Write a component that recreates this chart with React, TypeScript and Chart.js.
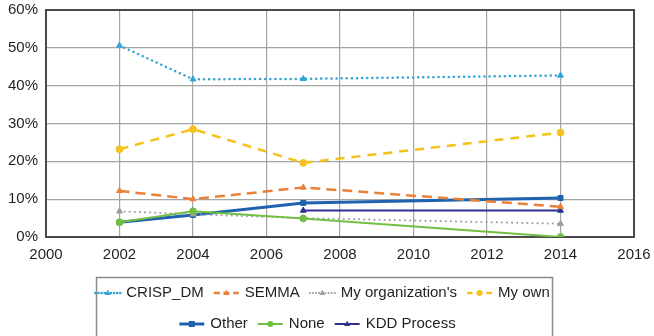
import { useEffect, useRef } from 'react';
import { Chart, registerables } from 'chart.js';

Chart.register(...registerables);

// ---------- data ----------
const years = [2002, 2004, 2007, 2014];
const kddYears = [2007, 2014];
const crispDm = [50.6, 41.7, 41.8, 42.7];
const semma = [12.2, 10.0, 13.1, 8.0];
const myOrganization = [6.8, 6.0, 5.0, 3.5];
const myOwn = [23.2, 28.5, 19.6, 27.6];
const other = [3.9, 5.8, 9.0, 10.3];
const none = [3.9, 6.8, 4.9, 0];
const kddProcess = [7.0, 7.0];
const xTicks = [2000, 2002, 2004, 2006, 2008, 2010, 2012, 2014, 2016];
const yTicks = [0, 10, 20, 30, 40, 50, 60];

const FONT = '"Liberation Sans", Arial, Helvetica, sans-serif';
const TEXT = '#231f20';

type S = {
  label: string;
  xs: number[];
  ys: number[];
  color: string;
  dash: number[];
  width: number;
  cap: CanvasLineCap;
  marker: 'triangle' | 'rect' | 'circle';
  order?: number;
};

const series: S[] = [
  { label: 'CRISP_DM', xs: years, ys: crispDm, color: '#33a3d6', dash: [0.1, 5], width: 2.5, cap: 'round', marker: 'triangle' },
  { label: 'SEMMA', xs: years, ys: semma, color: '#ea8139', dash: [10, 6], width: 2.5, cap: 'butt', marker: 'triangle' },
  { label: "My organization's", xs: years, ys: myOrganization, color: '#9d9d9d', dash: [0.1, 5], width: 2, cap: 'round', marker: 'triangle' },
  { label: 'My own', xs: years, ys: myOwn, color: '#f5c21b', dash: [9, 7], width: 2.5, cap: 'butt', marker: 'circle' },
  { label: 'Other', xs: years, ys: other, color: '#1f62ad', dash: [], width: 3, cap: 'butt', marker: 'rect' },
  { label: 'None', xs: years, ys: none, color: '#72bf45', dash: [], width: 2, cap: 'butt', marker: 'circle', order: -1 },
  { label: 'KDD Process', xs: kddYears, ys: kddProcess, color: '#2e3192', dash: [], width: 2, cap: 'butt', marker: 'triangle' },
];

function drawMarker(ctx: CanvasRenderingContext2D, m: string, x: number, y: number, r: number, color: string) {
  ctx.save();
  ctx.setLineDash([]);
  ctx.fillStyle = color;
  ctx.beginPath();
  if (m === 'triangle') {
    ctx.moveTo(x, y - r * 1.1);
    ctx.lineTo(x + r, y + r * 0.7);
    ctx.lineTo(x - r, y + r * 0.7);
    ctx.closePath();
  } else if (m === 'rect') {
    ctx.rect(x - r, y - r, 2 * r, 2 * r);
  } else {
    ctx.arc(x, y, r, 0, Math.PI * 2);
  }
  ctx.fill();
  ctx.restore();
}

const legendRows = [[0, 1, 2, 3], [4, 5, 6]];
const legendRowY = [293, 324];
const legendRowCenter = [322, 317];

const boxLegendPlugin = {
  id: 'boxLegend',
  beforeDatasetsDraw(chart: any) {
    const { ctx, chartArea } = chart;
    ctx.save();
    ctx.strokeStyle = '#4a4a4a';
    ctx.lineWidth = 2;
    ctx.strokeRect(chartArea.left, chartArea.top, chartArea.right - chartArea.left, chartArea.bottom - chartArea.top);
    ctx.restore();
  },
  afterDraw(chart: any) {
    const ctx: CanvasRenderingContext2D = chart.ctx;
    ctx.save();
    // legend frame
    ctx.strokeStyle = '#8a8a8a';
    ctx.lineWidth = 1.5;
    ctx.strokeRect(96.5, 277.5, 456, 62);
    ctx.font = '15px ' + FONT;
    ctx.textBaseline = 'middle';
    ctx.textAlign = 'left';
    const sampleW = 27;
    const textGap = 5;
    const itemGap = 9;
    legendRows.forEach((row, ri) => {
      const widths = row.map((i) => sampleW + textGap + ctx.measureText(series[i].label).width);
      const total = widths.reduce((a, b) => a + b, 0) + itemGap * (row.length - 1);
      let x = legendRowCenter[ri] - total / 2;
      const y = legendRowY[ri];
      row.forEach((i, k) => {
        const s = series[i];
        ctx.save();
        ctx.strokeStyle = s.color;
        ctx.lineWidth = s.width;
        ctx.lineCap = s.cap;
        ctx.setLineDash(s.dash.length ? [s.dash[0] * 0.6 + 0.05, s.dash[1] * 0.6] : []);
        ctx.beginPath();
        ctx.moveTo(x + 1, y);
        ctx.lineTo(x + sampleW - 1, y);
        ctx.stroke();
        ctx.restore();
        drawMarker(ctx, s.marker, x + sampleW / 2, y, 3, s.color);
        ctx.fillStyle = TEXT;
        ctx.fillText(s.label, x + sampleW + textGap, y);
        x += widths[k] + itemGap;
      });
    });
    ctx.restore();
  },
};

export default function App() {
  const ref = useRef<HTMLCanvasElement>(null);
  useEffect(() => {
    const datasets = series.map((s) => ({
      label: s.label,
      data: s.xs.map((x, i) => ({ x, y: s.ys[i] })),
      showLine: true,
      borderColor: s.color,
      backgroundColor: s.color,
      borderWidth: s.width,
      borderDash: s.dash,
      borderCapStyle: s.cap,
      pointStyle: s.marker,
      pointRadius: s.marker === 'rect' ? 3.5 : 3.4,
      pointBackgroundColor: s.color,
      pointBorderColor: s.color,
      pointBorderWidth: 1,
      tension: 0,
      order: s.order ?? 0,
    }));
    const chart = new Chart(ref.current!, {
      type: 'scatter',
      data: { datasets } as any,
      options: {
        responsive: true,
        maintainAspectRatio: false,
        animation: false,
        layout: { padding: { top: 10, right: 20, left: 0, bottom: 0 } },
        plugins: { legend: { display: false }, tooltip: { enabled: false } },
        scales: {
          x: {
            type: 'linear',
            min: xTicks[0],
            max: xTicks[xTicks.length - 1],
            afterBuildTicks: (scale: any) => {
              scale.ticks = xTicks.map((v) => ({ value: v }));
            },
            ticks: {
              color: TEXT,
              font: { family: FONT, size: 15 },
              padding: 9,
              maxRotation: 0,
              autoSkip: false,
              callback: (v: any) => String(v),
            },
            grid: { color: '#a5a5a5', lineWidth: 1.2, drawTicks: false },
            border: { display: false },
            afterFit: (scale: any) => {
              scale.height = 99;
              scale.paddingLeft = 0;
              scale.paddingRight = 0;
            },
          },
          y: {
            min: yTicks[0],
            max: yTicks[yTicks.length - 1],
            afterBuildTicks: (scale: any) => {
              scale.ticks = yTicks.map((v) => ({ value: v }));
            },
            ticks: {
              color: TEXT,
              font: { family: FONT, size: 15 },
              padding: 8,
              callback: (v: any) => v + '%',
            },
            grid: { color: '#a5a5a5', lineWidth: 1.2, drawTicks: false },
            border: { display: false },
            afterFit: (scale: any) => {
              scale.width = 46;
              scale.paddingTop = 0;
              scale.paddingBottom = 0;
            },
          },
        },
      } as any,
      plugins: [boxLegendPlugin],
    });
    return () => chart.destroy();
  }, []);
  return (
    <div style={{ position: 'fixed', left: 0, top: 0, width: 654, height: 336, background: '#fff' }}>
      <canvas ref={ref} />
    </div>
  );
}
